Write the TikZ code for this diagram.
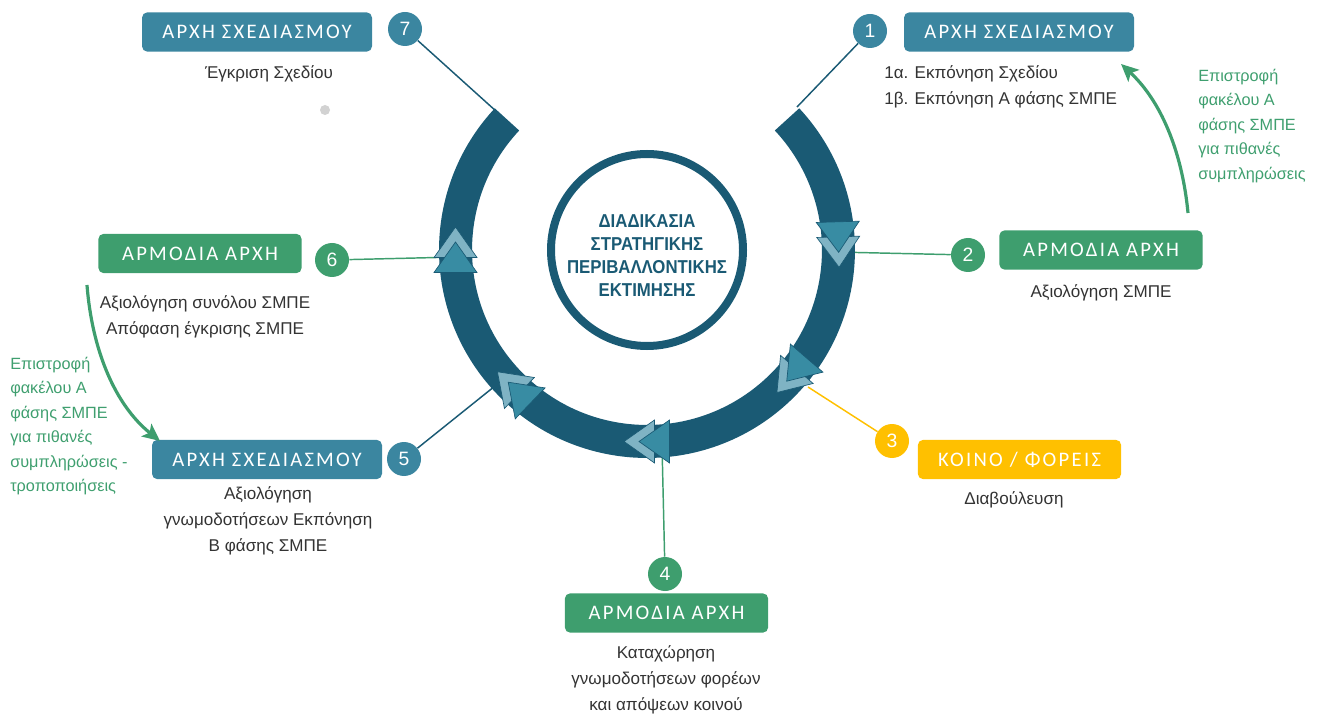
\documentclass[tikz,border=0pt]{standalone}
\usepackage{fontspec}
\setmainfont{Liberation Sans}
\newfontfamily\btnfont[LetterSpace=11]{Carlito}
\newfontfamily\ctrfont[FakeStretch=0.9]{Liberation Sans}
\usetikzlibrary{arrows.meta}
\definecolor{ringc}{HTML}{1A5A74}
\definecolor{plan}{HTML}{3B86A0}
\definecolor{grn}{HTML}{3E9E6E}
\definecolor{yel}{HTML}{FFC000}
\definecolor{tridark}{HTML}{388CA3}
\definecolor{trilight}{HTML}{7FB3C4}
\definecolor{gtext}{HTML}{3F9F6F}
\definecolor{lbltext}{HTML}{333333}
\definecolor{dotc}{HTML}{D2D2D2}
\begin{document}
\begin{tikzpicture}[x=0.75pt,y=-0.75pt,
  btn/.style={rounded corners=4pt, text=white, font=\btnfont\fontsize{15.5}{17}\selectfont, inner sep=0pt, minimum height=29.5pt},
  planbox/.style={btn, fill=plan, minimum width=172.5pt},
  greenbox/.style={btn, fill=grn, minimum width=152.5pt},
  yellowbox/.style={btn, fill=yel, minimum width=152.5pt},
  num/.style={circle, minimum size=25.5pt, inner sep=0pt, text=white, font=\fontsize{14.5}{14.5}\selectfont},
  lbl/.style={text=lbltext, font=\fontsize{12.8}{19.5}\selectfont, align=center, inner sep=0pt},
  gtxt/.style={text=gtext, font=\fontsize{12.2}{18.4}\selectfont, align=left, inner sep=0pt},
  conn/.style={line width=1.1pt},
  garrow/.style={draw=grn, line width=2.4pt, -{Stealth[length=13pt,width=12pt,inset=3pt]}},
  trilt/.style={fill=trilight, draw=ringc, line width=0.5pt},
  tridk/.style={fill=tridark, draw=ringc, line width=0.5pt}
]
\useasboundingbox (0,0) rectangle (1317,716);
\coordinate (C) at (647,250);

% boxes
\node[planbox] (b7) at (257,32) {ΑΡΧΗ ΣΧΕΔΙΑΣΜΟΥ};
\node[planbox] (b1) at (1019,32) {ΑΡΧΗ ΣΧΕΔΙΑΣΜΟΥ};
\node[greenbox] (b2) at (1101,250) {ΑΡΜΟΔΙΑ ΑΡΧΗ};
\node[greenbox] (b6) at (200,253.5) {ΑΡΜΟΔΙΑ ΑΡΧΗ};
\node[yellowbox] (b3) at (1019.5,459.5) {ΚΟΙΝΟ / ΦΟΡΕΙΣ};
\node[planbox] (b5) at (267,459.5) {ΑΡΧΗ ΣΧΕΔΙΑΣΜΟΥ};
\node[greenbox] (b4) at (666.5,613) {ΑΡΜΟΔΙΑ ΑΡΧΗ};

% number circles
\node[num, fill=plan] (n7) at (405,29) {7};
\node[num, fill=plan] (n1) at (870,31) {1};
\node[num, fill=grn] (n2) at (968,255) {2};
\node[num, fill=grn] (n6) at (332,260) {6};
\node[num, fill=yel] (n3) at (892,441) {3};
\node[num, fill=grn] (n4) at (665,574) {4};
\node[num, fill=plan] (n5) at (404,459) {5};

% labels
\node[lbl] (t7) at (269,74) {Έγκριση Σχεδίου};
\node[lbl, align=left, anchor=west] (t1) at (884,87) {1α. Εκπόνηση Σχεδίου\\1β. Εκπόνηση Α φάσης ΣΜΠΕ};
\node[lbl] (t2) at (1101,293) {Αξιολόγηση ΣΜΠΕ};
\node[lbl] (t6) at (205,317) {Αξιολόγηση συνόλου ΣΜΠΕ\\Απόφαση έγκρισης ΣΜΠΕ};
\node[lbl] (t3) at (1014,500) {Διαβούλευση};
\node[lbl] (t5) at (268,521) {Αξιολόγηση\\γνωμοδοτήσεων Εκπόνηση\\Β φάσης ΣΜΠΕ};
\node[lbl] (t4) at (666,680) {Καταχώρηση\\γνωμοδοτήσεων φορέων\\και απόψεων κοινού};

\node[gtxt, anchor=west] (g1) at (1198,126) {Επιστροφή\\φακέλου Α\\φάσης ΣΜΠΕ\\για πιθανές\\συμπληρώσεις};
\node[gtxt, anchor=west] (g2) at (10,426) {Επιστροφή\\φακέλου Α\\φάσης ΣΜΠΕ\\για πιθανές\\συμπληρώσεις -\\τροποποιήσεις};

% grey dot
\fill[dotc] (325,110) circle[radius=3.75pt];

% ring anchor points
\coordinate (p7) at (497,112);
\coordinate (p1) at (797,107);
\coordinate (p2) at (835,252);
\coordinate (p6) at (458,257);
\coordinate (p3) at (808,387);
\coordinate (p4) at (662,445);
\coordinate (p5) at (495,386);

% connectors
\draw[conn, ringc] (n7) -- (p7);
\draw[conn, ringc] (n1) -- (p1);
\draw[conn, grn] (n2) -- (p2);
\draw[conn, grn] (n6) -- (p6);
\draw[conn, yel] (n3) -- (p3);
\draw[conn, grn] (n4) -- (p4);
\draw[conn, ringc] (n5) -- (p5);

% green return arrows
\coordinate (a1s) at (1188,213);
\coordinate (a1e) at (1121,64);
\draw[garrow] (a1s) .. controls (1182,150) and (1160,100) .. (a1e);
\coordinate (a2s) at (87,285);
\coordinate (a2e) at (160,441);
\draw[garrow] (a2s) .. controls (92,350) and (115,405) .. (a2e);

% ring
\draw[ringc, line width=24.75pt] (C) ++(43:143.6pt) arc[start angle=43, end angle=-223, radius=143.6pt];

% markers
\foreach \a in {1.7,-40.8,-90,-134,180} {
  \begin{scope}[shift={(C)}, rotate=\a]
    \filldraw[trilt] (170,-7.5) -- (213,-7.5) -- (191.5,23) -- cycle;
    \filldraw[tridk] (170,-22.5) -- (213,-22.5) -- (191.5,8) -- cycle;
  \end{scope}
}

% inner circle
\draw[ringc, line width=6pt] (C) circle[radius=72pt];
\node[font=\ctrfont\bfseries\fontsize{14}{17.25}\selectfont, text=ringc, align=center, inner sep=0pt] (ctr) at (647,256) {ΔΙΑΔΙΚΑΣΙΑ\\ΣΤΡΑΤΗΓΙΚΗΣ\\ΠΕΡΙΒΑΛΛΟΝΤΙΚΗΣ\\ΕΚΤΙΜΗΣΗΣ};
\end{tikzpicture}
\end{document}
